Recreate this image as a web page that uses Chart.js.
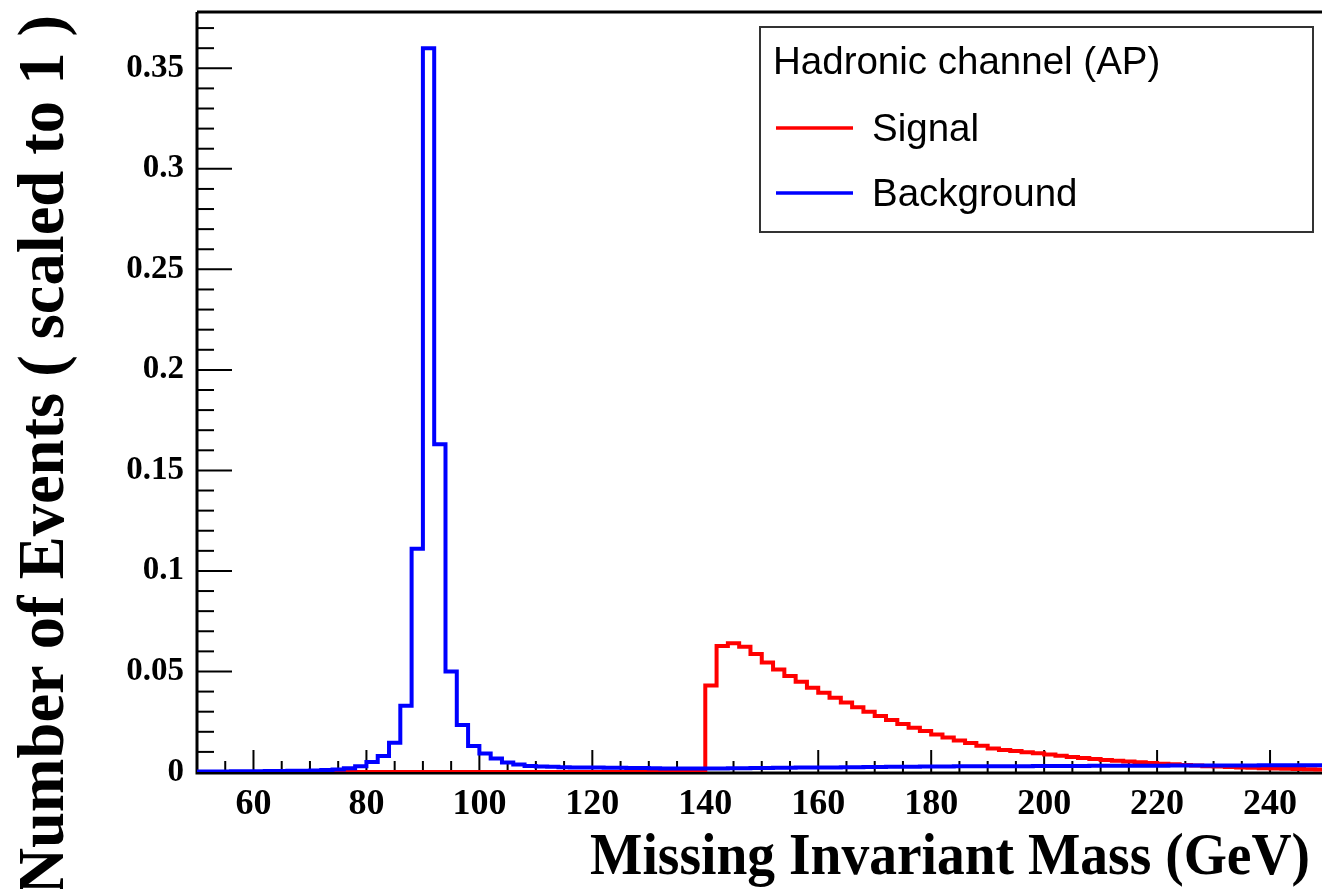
<!DOCTYPE html>
<html>
<head>
<meta charset="utf-8">
<script src="https://cdn.jsdelivr.net/npm/chart.js@4.4.1/dist/chart.umd.min.js"></script>
<style>
    html, body { margin: 0; padding: 0; background: #fff; overflow: hidden; }
</style>
</head>
<body>
<canvas id="massChart" width="1322" height="889"></canvas>
<script>
// 100 bins of 2 GeV, from 50 to 250 GeV
const binLow = 50;
const binWidth = 2;

// Signal (red), one value per bin
const signal = [
    0, 0, 0, 0, 0, 0, 0, 0, 0, 0,
    0, 0, 0, 0, 0, 0, 0, 0, 0, 0,
    0, 0, 0, 0, 0, 0, 0, 0, 0, 0,
    0, 0, 0, 0, 0, 0, 0, 0, 0, 0,
    0, 0, 0, 0, 0,
    0.043, 0.0627, 0.064, 0.0623, 0.0587, 0.0545, 0.051, 0.0477, 0.0449, 0.0419,
    0.0394, 0.0369, 0.0346, 0.0322, 0.030, 0.0278, 0.0259, 0.0239, 0.022, 0.0204,
    0.0187, 0.0172, 0.0157, 0.0144, 0.0131, 0.0117, 0.0110, 0.0104, 0.0098, 0.0093,
    0.0087, 0.0081, 0.0075, 0.0070, 0.0065, 0.0060, 0.0056, 0.0052, 0.0048, 0.0045,
    0.0041, 0.0038, 0.0035, 0.0032, 0.0029, 0.0027, 0.0025, 0.0023, 0.0021, 0.0019,
    0.0018, 0.0016, 0.0015, 0.0014, 0.0013
];

// Background (blue), one value per bin
const background = [
    0.0003, 0.0003, 0.0003, 0.0004, 0.0004, 0.0004, 0.0005, 0.0005, 0.0006, 0.0006,
    0.0008, 0.001, 0.0013, 0.0019, 0.0028, 0.005, 0.008, 0.0145, 0.033, 0.111,
    0.360, 0.163, 0.050, 0.0234, 0.0129, 0.0092, 0.0067, 0.0047, 0.0037, 0.003,
    0.0027, 0.0026, 0.0024, 0.0023, 0.0022, 0.0022, 0.0021, 0.0021, 0.0020, 0.0020,
    0.0019, 0.0018, 0.0018, 0.0017, 0.0017, 0.0018, 0.0018, 0.0019, 0.0019, 0.0020,
    0.0020, 0.0021, 0.0021, 0.0022, 0.0022, 0.0023, 0.0023, 0.0024, 0.0024, 0.0025,
    0.0025, 0.0026, 0.0026, 0.0026, 0.0027, 0.0027, 0.0027, 0.0028, 0.0028, 0.0028,
    0.0029, 0.0029, 0.0029, 0.0029, 0.0030, 0.0030, 0.0030, 0.0030, 0.0030, 0.0031,
    0.0031, 0.0031, 0.0031, 0.0031, 0.0031, 0.0031, 0.0032, 0.0032, 0.0032, 0.0032,
    0.0032, 0.0032, 0.0032, 0.0032, 0.0033, 0.0033, 0.0033, 0.0033, 0.0033, 0.0033
];

const xTicks = [60, 80, 100, 120, 140, 160, 180, 200, 220, 240];
const yTicks = [0, 0.05, 0.1, 0.15, 0.2, 0.25, 0.3, 0.35];

const legendTitle = "Hadronic channel (AP)";
const xTitle = "Missing Invariant Mass (GeV)";
const yTitle = "Number of Events ( scaled to 1 )";

const serif = "'Liberation Serif', 'Times New Roman', serif";
const sans = "'Liberation Sans', Arial, sans-serif";

// turn bin contents into step points (left edge of each bin + closing edge)
function toSteps(values) {
    const pts = values.map((v, i) => ({ x: binLow + i * binWidth, y: v }));
    pts.push({ x: binLow + values.length * binWidth, y: values[values.length - 1] });
    return pts;
}

// frame + inward ticks, ROOT style
const framePlugin = {
    id: "frame",
    beforeDatasetsDraw(chart) {
        const { ctx, chartArea: a, scales } = chart;
        const xs = scales.x, ys = scales.y;
        ctx.save();
        ctx.strokeStyle = "#000";
        ctx.lineWidth = 2;
        // x ticks (minor every 5, major every 20)
        for (let v = 50; v <= xs.max; v += 5) {
            const px = xs.getPixelForValue(v);
            const len = v % 20 === 0 ? 22 : 11;
            ctx.beginPath();
            ctx.moveTo(px, a.bottom);
            ctx.lineTo(px, a.bottom - len);
            ctx.stroke();
        }
        // y ticks (minor every 0.01, major every 0.05)
        for (let i = 0; i * 0.01 <= ys.max; i++) {
            const py = ys.getPixelForValue(i * 0.01);
            const len = i % 5 === 0 ? 35 : 17;
            ctx.beginPath();
            ctx.moveTo(a.left, py);
            ctx.lineTo(a.left + len, py);
            ctx.stroke();
        }
        ctx.lineWidth = 3;
        ctx.beginPath();
        ctx.moveTo(a.left, a.top);
        ctx.lineTo(a.right, a.top);
        ctx.moveTo(a.left, a.top);
        ctx.lineTo(a.left, a.bottom + 1.5);
        ctx.moveTo(a.left - 1.5, a.bottom + 1);
        ctx.lineTo(a.right, a.bottom + 1);
        ctx.stroke();
        ctx.restore();
    },
    afterDraw(chart) {
        const { ctx } = chart;
        ctx.save();
        ctx.fillStyle = "#000";

        // axis titles
        ctx.font = "bold 55.5px " + serif;
        ctx.textAlign = "right";
        ctx.textBaseline = "alphabetic";
        ctx.translate(1310, 874);
        ctx.scale(1, 1.07);
        ctx.fillText(xTitle, 0, 0);
        ctx.setTransform(1, 0, 0, 1, 0, 0);

        ctx.translate(63, 15);
        ctx.rotate(-Math.PI / 2);
        ctx.font = "bold 64.5px " + serif;
        ctx.fillText(yTitle, 0, 0);
        ctx.setTransform(1, 0, 0, 1, 0, 0);

        // legend box
        const bx = 760, by = 27, bw = 553, bh = 205;
        ctx.fillStyle = "#fff";
        ctx.fillRect(bx, by, bw, bh);
        ctx.strokeStyle = "#333";
        ctx.lineWidth = 2;
        ctx.strokeRect(bx, by, bw, bh);

        ctx.fillStyle = "#000";
        ctx.textAlign = "left";
        ctx.textBaseline = "middle";
        ctx.font = "38.5px " + sans;
        ctx.fillText(legendTitle, 773, 63);

        const rows = [128, 193];
        chart.data.datasets.forEach((ds, i) => {
            const y = rows[i];
            ctx.strokeStyle = ds.borderColor;
            ctx.lineWidth = 3.5;
            ctx.beginPath();
            ctx.moveTo(776, y);
            ctx.lineTo(853, y);
            ctx.stroke();
            ctx.fillStyle = "#000";
            ctx.fillText(ds.label, 872, y + 2);
        });
        ctx.restore();
    }
};

new Chart(document.getElementById("massChart"), {
    type: "line",
    data: {
        datasets: [
            {
                label: "Signal",
                data: toSteps(signal),
                borderColor: "#ff0000",
                borderWidth: 4,
                stepped: "before",
                pointRadius: 0,
                fill: false,
                order: 1,
            },
            {
                label: "Background",
                data: toSteps(background),
                borderColor: "#0000ff",
                borderWidth: 4,
                stepped: "before",
                pointRadius: 0,
                fill: false,
                order: 0,
            },
        ],
    },
    options: {
        responsive: false,
        animation: false,
        layout: { padding: { top: 12, right: 0, left: 0, bottom: 0 } },
        scales: {
            x: {
                type: "linear",
                min: 50,
                max: 249.2,
                grid: { display: false },
                border: { display: false },
                afterBuildTicks: (scale) => { scale.ticks = xTicks.map((v) => ({ value: v })); },
                afterFit: (scale) => {
                    scale.height = 117;
                    scale.paddingLeft = 0;
                    scale.paddingRight = 0;
                },
                ticks: {
                    color: "#000",
                    font: { family: serif, size: 36, weight: "bold" },
                    padding: 3,
                    maxRotation: 0,
                    autoSkip: false,
                },
            },
            y: {
                type: "linear",
                min: 0,
                max: 0.378,
                grid: { display: false },
                border: { display: false },
                afterBuildTicks: (scale) => { scale.ticks = yTicks.map((v) => ({ value: v })); },
                afterFit: (scale) => {
                    scale.width = 197;
                    scale.paddingTop = 0;
                    scale.paddingBottom = 0;
                },
                ticks: {
                    color: "#000",
                    font: { family: serif, size: 33, weight: "bold" },
                    padding: 5,
                    callback: (v) => String(v),
                },
            },
        },
        plugins: {
            legend: { display: false },
            tooltip: { enabled: false },
        },
    },
    plugins: [framePlugin],
});
</script>
</body>
</html>
